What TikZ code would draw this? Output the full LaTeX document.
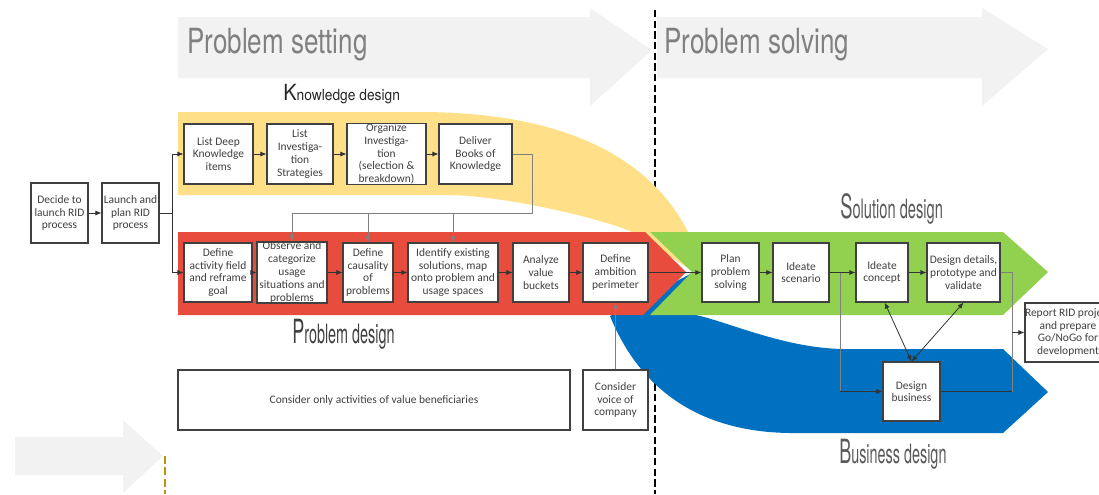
\documentclass[tikz,border=0pt]{standalone}
\usepackage{fontspec}
\setmainfont{Carlito}
\newfontfamily\titlefont{TeX Gyre Heros}
\usetikzlibrary{arrows.meta}
\definecolor{arrowgrey}{HTML}{F2F2F2}
\definecolor{kyellow}{HTML}{FFDF88}
\definecolor{pred}{HTML}{E84C3D}
\definecolor{sgreen}{HTML}{92D050}
\definecolor{bblue}{HTML}{0070C0}
\definecolor{boxline}{HTML}{404040}
\definecolor{boxtext}{HTML}{404040}
\definecolor{gold}{HTML}{B8960C}
\definecolor{titlegrey}{HTML}{808080}
\definecolor{lbldark}{HTML}{262626}
\definecolor{lblgrey}{HTML}{595959}
\begin{document}
\begin{tikzpicture}[x=0.75pt,y=-0.75pt,
  box/.style={draw=boxline, fill=white, line width=0.8pt, inner sep=0pt, align=center,
    font=\fontsize{8.6}{9.6}\selectfont, text=boxtext},
  bx/.style n args={2}{box, minimum width={#1*0.75pt}, minimum height={#2*0.75pt}},
  conn/.style={draw=black!80, line width=0.6pt},
  gconn/.style={draw=black!50, line width=0.6pt},
  arr/.style={-{Latex[length=4.5pt,width=3.8pt]}},
  darr/.style={{Latex[length=4.5pt,width=3.8pt]}-{Latex[length=4.5pt,width=3.8pt]}},
  lbl/.style={anchor=base west, inner sep=0pt},
]
\useasboundingbox (0,0) rectangle (1099,494);
\clip (0,0) rectangle (1099,494);
% grey phase arrows
\fill[arrowgrey] (178,17) -- (590,17) -- (590,8) -- (652,50) -- (590,106) -- (590,78) -- (178,78) -- cycle;
\fill[arrowgrey] (657,17) -- (982,17) -- (982,8) -- (1048,49) -- (982,106) -- (982,78) -- (657,78) -- cycle;
\fill[arrowgrey] (15,437) -- (123,437) -- (123,420) -- (163,456) -- (123,493) -- (123,475) -- (15,475) -- cycle;
% dashed separators
\coordinate (sepTop) at (655,10);
\coordinate (sepBot) at (655,494);
\draw[black, line width=1.4pt, dash pattern=on 5.5pt off 2.5pt] (sepTop) -- (sepBot);
\coordinate (goldTop) at (165,456);
\coordinate (goldBot) at (165,494);
\draw[gold, line width=1.8pt, dash pattern=on 6pt off 2.5pt] (goldTop) -- (goldBot);
% bands
\fill[kyellow] (178,112) -- (420,112) .. controls (590,112) and (665,175) .. (694,245) -- (694,272)
  -- (630,231) .. controls (590,215) and (500,196) .. (450,195) -- (178,195) -- cycle;
\fill[bblue] (694,272) -- (610,316) .. controls (640,390) and (700,432) .. (790,433) -- (1003,433)
  -- (1048,392) -- (1003,349) -- (843,349) .. controls (780,348) and (720,318) .. (690,314) -- cycle;
\fill[pred] (178,232) -- (645,232) -- (686,272) -- (643,315) -- (178,315) -- cycle;
\fill[sgreen] (650,232) -- (1003,232) -- (1048,272) -- (1003,315) -- (650,315) -- (692,272) -- cycle;
% labels
\node[lbl, text=titlegrey] (tset) at (187,53) {\scalebox{0.75}[1]{\titlefont\fontsize{26}{26}\selectfont Problem setting}};
\node[lbl, text=titlegrey] (tsolve) at (664,53) {\scalebox{0.75}[1]{\titlefont\fontsize{26}{26}\selectfont Problem solving}};
\node[lbl, text=lbldark] (tkd) at (283,100) {\scalebox{0.9}[1]{\titlefont{\fontsize{16.7}{17}\selectfont K}{\fontsize{11.5}{12}\selectfont nowledge design}}};
\node[lbl, text=boxtext] (tpd) at (292,343) {\scalebox{0.54}[1]{\titlefont{\fontsize{25}{25}\selectfont P}{\fontsize{20}{20}\selectfont roblem design}}};
\node[lbl, text=lblgrey] (tsd) at (840,218) {\scalebox{0.55}[1]{\titlefont{\fontsize{25}{25}\selectfont S}{\fontsize{20}{20}\selectfont olution design}}};
\node[lbl, text=lblgrey] (tbd) at (839,463) {\scalebox{0.54}[1]{\titlefont{\fontsize{25}{25}\selectfont B}{\fontsize{20}{20}\selectfont usiness design}}};
% boxes
\node[bx={57}{60}] (dec) at (59.5,213) {Decide to\\launch RID\\process};
\node[bx={57}{60}] (lau) at (130.5,213) {Launch and\\plan RID\\process};
\node[bx={69}{60}] (k1) at (218.5,154) {List Deep\\Knowledge\\items};
\node[bx={66}{60}] (k2) at (300,154) {List\\Investiga-\\tion\\Strategies};
\node[bx={79}{60}] (k3) at (386.5,154) {Organize\\Investiga-\\tion\\(selection \&\\breakdown)};
\node[bx={73}{60}] (k4) at (475.5,154) {Deliver\\Books of\\Knowledge};
\node[bx={68}{59}] (p1) at (218,272.5) {Define\\activity field\\and reframe\\goal};
\node[bx={70}{59}] (p2) at (292,272.5) {Observe and\\categorize\\usage\\situations and\\problems};
\node[bx={50}{59}] (p3) at (368,272.5) {Define\\causality\\of\\problems};
\node[bx={90}{59}] (p4) at (453,272.5) {Identify existing\\solutions, map\\onto problem and\\usage spaces};
\node[bx={56}{59}] (p5) at (541,272.5) {Analyze\\value\\buckets};
\node[bx={65}{59}] (p6) at (615.5,272.5) {Define\\ambition\\perimeter};
\node[bx={57}{59}] (s1) at (730.5,272.5) {Plan\\problem\\solving};
\node[bx={56}{59}] (s2) at (801,272.5) {Ideate\\scenario};
\node[bx={52}{59}] (s3) at (882,272.5) {Ideate\\concept};
\node[bx={73}{59}] (s4) at (963.5,272.5) {Design details,\\prototype and\\validate};
\node[bx={57}{59}] (db) at (911.5,391.5) {Design\\business};
\node[bx={86}{59}] (rep) at (1068,332.5) {Report RID project\\and prepare\\Go/NoGo for\\development};
\node[bx={392}{60}] (c1) at (374,400) {Consider only activities of value beneficiaries};
\node[bx={65}{60}] (c2) at (615.5,400) {Consider\\voice of\\company};
% connectors
\coordinate (br) at (172,213);
\coordinate (kOut) at (532,154);
\coordinate (kDown) at (532,213);
\coordinate (kLeft) at (292,213);
\coordinate (sBr) at (840,272.5);
\coordinate (sBrDown) at (840,391.5);
\coordinate (dOut) at (1012,272.5);
\coordinate (dDown) at (1012,391.5);
\coordinate (dRep) at (1012,332.5);
\draw[conn, arr] (dec) -- (lau);
\draw[conn] (lau.east) -- (br);
\draw[conn, arr] (br) |- (k1.west);
\draw[conn, arr] (br) |- (p1.west);
\draw[conn, arr] (k1) -- (k2);
\draw[conn, arr] (k2) -- (k3);
\draw[conn, arr] (k3) -- (k4);
\draw[gconn] (k4.east) -- (kOut) -- (kDown) -- (kLeft);
\draw[gconn, arr] (kLeft) -- (p2.north);
\draw[gconn, arr] (kDown -| p3.north) -- (p3.north);
\draw[gconn, arr] (kDown -| p4.north) -- (p4.north);
\draw[conn, arr] (p1) -- (p2);
\draw[conn, arr] (p2) -- (p3);
\draw[conn, arr] (p3) -- (p4);
\draw[conn, arr] (p4) -- (p5);
\draw[conn, arr] (p5) -- (p6);
\draw[conn, arr] (p6) -- (s1);
\draw[gconn, arr] (c2.north) -- (p6.south);
\draw[conn, arr] (s1) -- (s2);
\draw[conn, arr] (s2.east) -- (s3.west);
\draw[gconn] (sBr) -- (sBrDown);
\draw[conn, arr] (sBrDown) -- (db.west);
\draw[conn, arr] (s3) -- (s4);
\draw[gconn] (s4.east) -- (dOut) -- (dDown);
\draw[conn] (dDown) -- (db.east);
\draw[conn, arr] (dRep) -- (rep.west);
\draw[conn, darr] (db.north) -- ([xshift=2pt]s3.south);
\draw[conn, darr] (db.north) -- (s4.south);
\end{tikzpicture}
\end{document}
